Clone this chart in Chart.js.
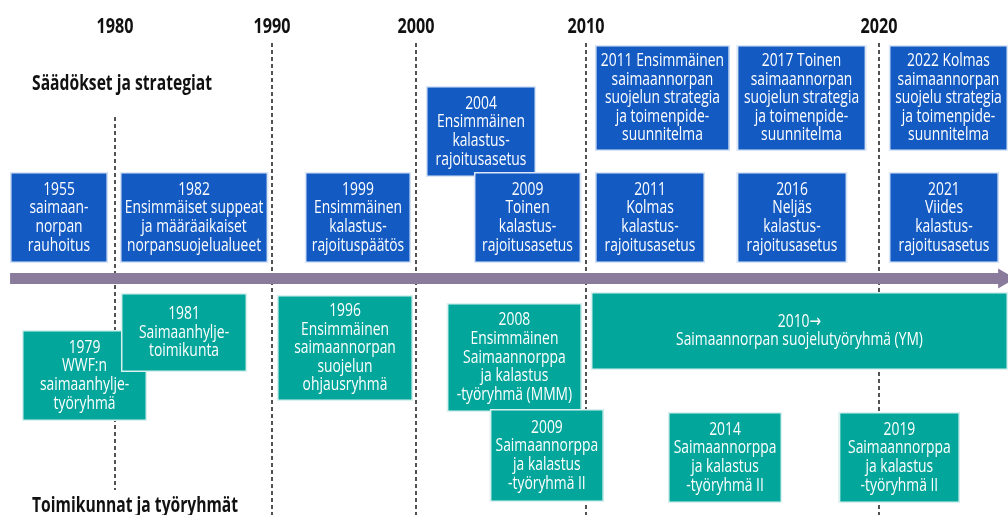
<!DOCTYPE html>
<html>
<head>
<meta charset="utf-8">
<script src="https://cdn.jsdelivr.net/npm/chart.js@4"></script>
<style>
  html, body { margin: 0; padding: 0; background: #fff; }
  #wrap { width: 1008px; height: 515px; }
</style>
</head>
<body>
<div id="wrap"><canvas id="timeline"></canvas></div>
<script>
const FONT = '"Open Sans", "DejaVu Sans", "Noto Sans", sans-serif';
const SX = 0.77; // horizontal squeeze, the original uses a condensed face

const decades = [1980, 1990, 2000, 2010, 2020];

// Säädökset ja strategiat (above the arrow)
const lawLabels = [
  '1955\nsaimaan-\nnorpan\nrauhoitus',
  '1982\nEnsimmäiset suppeat\nja määräaikaiset\nnorpansuojelualueet',
  '1999\nEnsimmäinen\nkalastus-\nrajoituspäätös',
  '2004\nEnsimmäinen\nkalastus-\nrajoitusasetus',
  '2009\nToinen\nkalastus-\nrajoitusasetus',
  '2011 Ensimmäinen\nsaimaannorpan\nsuojelun strategia\nja toimenpide-\nsuunnitelma',
  '2011\nKolmas\nkalastus-\nrajoitusasetus',
  '2017 Toinen\nsaimaannorpan\nsuojelun strategia\nja toimenpide-\nsuunnitelma',
  '2016\nNeljäs\nkalastus-\nrajoitusasetus',
  '2022 Kolmas\nsaimaannorpan\nsuojelu strategia\nja toimenpide-\nsuunnitelma',
  '2021\nViides\nkalastus-\nrajoitusasetus'
];
const lawSpans = [[1973.32, 1979.55], [1980.32, 1989.75], [1992.29, 1999.65], [2000.59, 2007.06], [2003.41, 2009.71],
  [2010.31, 2014.91], [2010.31, 2014.06], [2015.15, 2019.56], [2015.15, 2018.91], [2020.34, 2024.4], [2020.34, 2024.09]];
const lawRows = [[1.55, 10.65], [1.55, 10.65], [1.55, 10.65], [10.15, 19.25], [1.55, 10.65],
  [12.75, 23.35], [1.55, 10.65], [12.75, 23.35], [1.55, 10.65], [12.75, 23.35], [1.55, 10.65]];

// Toimikunnat ja työryhmät (below the arrow)
const groupLabels = [
  '1979\nWWF:n\nsaimaanhylje-\ntyöryhmä',
  '1981\nSaimaanhylje-\ntoimikunta',
  '1996\nEnsimmäinen\nsaimaannorpan\nsuojelun\nohjausryhmä',
  '2008\nEnsimmäinen\nSaimaannorppa\nja kalastus\n-työryhmä (MMM)',
  '2009\nSaimaannorppa\nja kalastus\n-työryhmä II',
  '2010\u2192\nSaimaannorpan suojelutyöryhmä (YM)',
  '2014\nSaimaannorppa\nja kalastus\n-työryhmä II',
  '2019\nSaimaannorppa\nja kalastus\n-työryhmä II'
];
const groupSpans = [[1974.08, 1982.04], [1980.38, 1988.41], [1990.35, 1999.79], [2001.82, 2009.76],
  [2004.35, 2010.61], [2010.17, 2024.4], [2012.80, 2016.69], [2018.63, 2022.76]];
const groupRows = [[-14.25, -5.15], [-9.35, -1.45], [-12.25, -1.65], [-13.35, -2.45],
  [-22.35, -13.05], [-9.15, -1.35], [-22.45, -13.35], [-22.45, -13.35]];

const sectionTitles = ['Säädökset ja strategiat', 'Toimikunnat ja työryhmät'];
const arrowSpan = [1973.32, 2024.26];

// x axis: piecewise linear, each decade gets its own width like in the original figure
class TimelineScale extends Chart.LinearScale {
  static id = 'timeline';
  static defaults = {};
  decimalFor(value) {
    const stops = this.options.stops, spans = this.options.spans;
    const total = spans.reduce((a, b) => a + b, 0);
    let acc = 0;
    for (let i = 0; i < spans.length; i++) {
      const a = stops[i], b = stops[i + 1];
      if (value <= b || i === spans.length - 1) return (acc + spans[i] * (value - a) / (b - a)) / total;
      acc += spans[i];
    }
  }
  getPixelForValue(value) {
    return this.getPixelForDecimal(this.decimalFor(value));
  }
  getValueForPixel(pixel) {
    const stops = this.options.stops, spans = this.options.spans;
    const total = spans.reduce((a, b) => a + b, 0);
    let d = this.getDecimalForPixel(pixel) * total;
    for (let i = 0; i < spans.length; i++) {
      if (d <= spans[i] || i === spans.length - 1) return stops[i] + (stops[i + 1] - stops[i]) * d / spans[i];
      d -= spans[i];
    }
  }
}
Chart.register(TimelineScale);

const decadeLines = decades.map((d, i) => ({
  data: [{x: d, y: i === 0 ? 16.15 : 23.55}, {x: d, y: i === 0 ? -21.15 : -23.65}],
  borderColor: '#1a1a1a',
  borderWidth: 1.5,
  borderDash: [4, 3],
  pointRadius: 0
}));

const arrow = {
  data: [{x: arrowSpan[0], y: 0}, {x: arrowSpan[1], y: 0}],
  borderColor: '#8a7b9d',
  backgroundColor: '#8a7b9d',
  borderWidth: 11,
  borderCapStyle: 'butt',
  pointStyle: 'triangle',
  pointRotation: 90,
  pointRadius: [0, 11.5],
  pointBorderWidth: 0
};

function squeezed(ctx, text, x, y, align, sx = SX) {
  ctx.save();
  ctx.translate(x, y);
  ctx.scale(sx, 1);
  ctx.textAlign = align;
  ctx.fillText(text, 0, 0);
  ctx.restore();
}

function drawBoxes(chart, labels, spans, rows, color) {
  const {ctx, scales: {x, y}} = chart;
  labels.forEach((text, i) => {
    const x0 = x.getPixelForValue(spans[i][0]), x1 = x.getPixelForValue(spans[i][1]);
    const yTop = y.getPixelForValue(rows[i][1]), yBot = y.getPixelForValue(rows[i][0]);
    ctx.fillStyle = color;
    ctx.fillRect(x0, yTop, x1 - x0, yBot - yTop);
    ctx.strokeStyle = 'rgba(255,255,255,0.85)';
    ctx.lineWidth = 1.5;
    ctx.strokeRect(x0 + 0.75, yTop + 0.75, x1 - x0 - 1.5, yBot - yTop - 1.5);
    const lines = text.split('\n');
    const lh = 18.6;
    const cx = (x0 + x1) / 2, cy = (yTop + yBot) / 2;
    ctx.fillStyle = '#fff';
    ctx.font = '18px ' + FONT;
    ctx.textBaseline = 'middle';
    lines.forEach((l, k) => squeezed(ctx, l, cx, cy + (k - (lines.length - 1) / 2) * lh, 'center'));
  });
}

const boxesPlugin = {
  id: 'boxes',
  afterDatasetsDraw(chart) {
    const {ctx, scales: {x, y}} = chart;
    ctx.save();
    drawBoxes(chart, lawLabels, lawSpans, lawRows, '#135ac3');
    drawBoxes(chart, groupLabels, groupSpans, groupRows, '#02a69b');
    ctx.fillStyle = '#111';
    ctx.font = 'bold 21px ' + FONT;
    ctx.textBaseline = 'alphabetic';
    squeezed(ctx, sectionTitles[0], x.getPixelForValue(1974.72), y.getPixelForValue(18.85), 'left', 0.745);
    squeezed(ctx, sectionTitles[1], x.getPixelForValue(1974.72), y.getPixelForValue(-23.3), 'left', 0.745);
    // decade labels of the x axis, redrawn squeezed at the axis' own tick positions
    ctx.textBaseline = 'middle';
    x.ticks.forEach((t, i) => squeezed(ctx, t.label, x.getPixelForTick(i), (x.top + x.bottom) / 2, 'center'));
    ctx.restore();
  }
};

new Chart(document.getElementById('timeline'), {
  type: 'line',
  data: { datasets: [arrow, ...decadeLines] },
  options: {
    responsive: true,
    maintainAspectRatio: false,
    animation: false,
    events: [],
    layout: { autoPadding: false, padding: { top: 14, left: 0, right: 0, bottom: 0 } },
    plugins: { legend: { display: false }, tooltip: { enabled: false } },
    scales: {
      x: {
        type: 'timeline',
        position: 'top',
        min: 1972.68,
        max: 2024.4,
        stops: [1972.68, 1980, 1990, 2000, 2010, 2020, 2024.4],
        spans: [115, 157, 144, 170, 293, 129],
        afterBuildTicks: scale => { scale.ticks = decades.map(v => ({value: v})); },
        grid: { display: false, drawTicks: false },
        border: { display: false },
        ticks: {
          autoSkip: false,
          maxRotation: 0,
          padding: 2.5,
          color: 'rgba(0,0,0,0)',
          font: { family: FONT, size: 21, weight: 'bold', lineHeight: 1 },
          callback: v => String(v)
        }
      },
      y: {
        type: 'linear',
        display: false,
        min: -23.65,
        max: 23.85
      }
    }
  },
  plugins: [boxesPlugin]
});
</script>
</body>
</html>
